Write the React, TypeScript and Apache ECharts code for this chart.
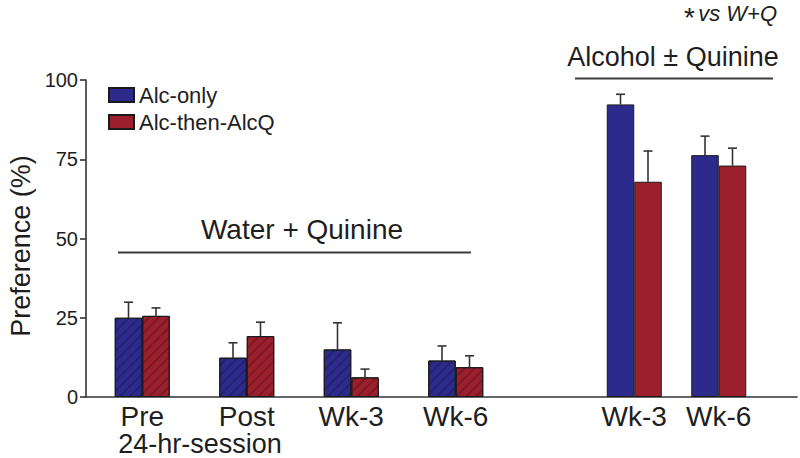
import React, { useEffect, useRef } from "react";
import * as echarts from "echarts";

// Water + Quinine phase
const leftCategories = ["Pre", "Post", "Wk-3", "Wk-6"];
const leftAlcOnly = [25.0, 12.4, 15.0, 11.5];
const leftAlcOnlyErr = [4.9, 4.7, 8.4, 4.6];
const leftAlcThen = [25.6, 19.2, 6.2, 9.4];
const leftAlcThenErr = [2.5, 4.4, 2.6, 3.6];

// Alcohol ± Quinine phase
const rightCategories = ["Wk-3", "Wk-6"];
const rightAlcOnly = [92.3, 76.3];
const rightAlcOnlyErr = [3.2, 6.0];
const rightAlcThen = [67.9, 73.0];
const rightAlcThenErr = [9.7, 5.5];

const yTicks = { min: 0, max: 100, interval: 25 };
const seriesNames = ["Alc-only", "Alc-then-AlcQ"];

const FONT = "'Liberation Sans', Arial, Helvetica, sans-serif";
const BLUE = "#2c2b8c";
const RED = "#9b1f2c";
const TXT = "#1e1e1e";
const BAR_W = 27.5;

const hatch = {
  symbol: "rect",
  symbolSize: 1,
  dashArrayX: [1, 0],
  dashArrayY: [2, 5],
  rotation: -Math.PI / 4,
  color: "rgba(0,0,0,0.2)",
};

function errRender(offset: number) {
  return (params: any, api: any) => {
    const base = api.coord([api.value(0), api.value(1)]);
    const top = api.coord([api.value(0), api.value(2)]);
    const x = base[0] + offset;
    const style = { stroke: "#333", lineWidth: 1.6 };
    return {
      type: "group",
      children: [
        { type: "line", shape: { x1: x, y1: base[1], x2: x, y2: top[1] }, style },
        { type: "line", shape: { x1: x - 4.5, y1: top[1], x2: x + 4.5, y2: top[1] }, style },
      ],
    };
  };
}

export default function App() {
  const ref = useRef<HTMLDivElement>(null);
  useEffect(() => {
    if (!ref.current) return;
    const chart = echarts.init(ref.current, null, { renderer: "svg" });
    const barItem = (color: string) => ({ color, borderColor: "#1a1a1a", borderWidth: 1 });
    const hatched = (vals: number[]) => vals.map((v) => ({ value: v, itemStyle: { decal: hatch } }));
    const errData = (vals: number[], errs: number[]) => vals.map((v, i) => [i, v, v + errs[i]]);
    const catAxis = (cats: string[], gridIndex: number) => ({
      type: "category",
      gridIndex,
      data: cats,
      axisLine: { show: false },
      axisTick: { show: false },
      axisLabel: {
        interval: 0,
        hideOverlap: false,
        fontSize: 28,
        lineHeight: 26,
        color: TXT,
        fontFamily: FONT,
        margin: 6,
      },
    });
    const option: any = {
      animation: false,
      backgroundColor: "#ffffff",
      textStyle: { fontFamily: FONT },
      legend: {
        orient: "vertical",
        left: 103,
        top: 79,
        itemWidth: 25,
        itemHeight: 14,
        itemGap: 5,
        icon: "rect",
        data: seriesNames,
        textStyle: { fontSize: 22, color: TXT, fontFamily: FONT, lineHeight: 22, padding: [0, 0, 0, 0] },
        selectedMode: false,
      },
      grid: [
        { left: 90, width: 418, top: 80, height: 317 },
        { left: 592, width: 169, top: 80, height: 317 },
        { left: 86, right: 3, top: 80, height: 317 },
      ],
      xAxis: [
        catAxis(leftCategories, 0),
        catAxis(rightCategories, 1),
        {
          type: "value",
          gridIndex: 2,
          min: 0,
          max: 1,
          axisLine: { show: true, lineStyle: { color: "#333", width: 1.6 } },
          axisTick: { show: false },
          axisLabel: { show: false },
          splitLine: { show: false },
        },
      ],
      yAxis: [
        {
          type: "value",
          gridIndex: 0,
          min: yTicks.min,
          max: yTicks.max,
          interval: yTicks.interval,
          offset: 4,
          axisLine: { show: true, lineStyle: { color: "#333", width: 1.6 } },
          axisTick: { show: true, inside: false, length: 6, lineStyle: { color: "#333", width: 1.6 } },
          axisLabel: { fontSize: 20, color: TXT, fontFamily: FONT, margin: 8 },
          splitLine: { show: false },
        },
        {
          type: "value",
          gridIndex: 1,
          min: yTicks.min,
          max: yTicks.max,
          show: false,
          splitLine: { show: false },
        },
        { type: "value", gridIndex: 2, min: 0, max: 1, show: false, splitLine: { show: false } },
      ],
      series: [
        {
          name: seriesNames[0],
          type: "bar",
          xAxisIndex: 0,
          yAxisIndex: 0,
          barWidth: BAR_W,
          barGap: "0%",
          itemStyle: barItem(BLUE),
          data: hatched(leftAlcOnly),
        },
        {
          name: seriesNames[1],
          type: "bar",
          xAxisIndex: 0,
          yAxisIndex: 0,
          barWidth: BAR_W,
          barGap: "0%",
          itemStyle: barItem(RED),
          data: hatched(leftAlcThen),
        },
        {
          name: seriesNames[0],
          type: "bar",
          xAxisIndex: 1,
          yAxisIndex: 1,
          barWidth: BAR_W,
          barGap: "0%",
          itemStyle: barItem(BLUE),
          data: rightAlcOnly,
        },
        {
          name: seriesNames[1],
          type: "bar",
          xAxisIndex: 1,
          yAxisIndex: 1,
          barWidth: BAR_W,
          barGap: "0%",
          itemStyle: barItem(RED),
          data: rightAlcThen,
        },
        {
          name: "errL0",
          type: "custom",
          xAxisIndex: 0,
          yAxisIndex: 0,
          renderItem: errRender(-BAR_W / 2),
          encode: { x: 0, y: [1, 2] },
          data: errData(leftAlcOnly, leftAlcOnlyErr),
          z: 1,
        },
        {
          name: "errL1",
          type: "custom",
          xAxisIndex: 0,
          yAxisIndex: 0,
          renderItem: errRender(BAR_W / 2),
          encode: { x: 0, y: [1, 2] },
          data: errData(leftAlcThen, leftAlcThenErr),
          z: 1,
        },
        {
          name: "errR0",
          type: "custom",
          xAxisIndex: 1,
          yAxisIndex: 1,
          renderItem: errRender(-BAR_W / 2),
          encode: { x: 0, y: [1, 2] },
          data: errData(rightAlcOnly, rightAlcOnlyErr),
          z: 1,
        },
        {
          name: "errR1",
          type: "custom",
          xAxisIndex: 1,
          yAxisIndex: 1,
          renderItem: errRender(BAR_W / 2),
          encode: { x: 0, y: [1, 2] },
          data: errData(rightAlcThen, rightAlcThenErr),
          z: 1,
        },
      ],
      graphic: [
        {
          type: "text",
          x: 21,
          y: 246,
          rotation: Math.PI / 2,
          style: {
            text: "Preference (%)",
            fontSize: 27,
            fontFamily: FONT,
            fill: TXT,
            textAlign: "center",
            textVerticalAlign: "middle",
          },
        },
        {
          type: "text",
          x: 200,
          y: 444,
          style: {
            text: "24-hr-session",
            fontSize: 27,
            lineHeight: 24,
            fontFamily: FONT,
            fill: TXT,
            textAlign: "center",
            textVerticalAlign: "middle",
          },
        },
        {
          type: "text",
          x: 302,
          y: 229,
          style: {
            text: "Water + Quinine",
            fontSize: 28,
            fontFamily: FONT,
            fill: TXT,
            textAlign: "center",
            textVerticalAlign: "middle",
          },
        },
        {
          type: "line",
          shape: { x1: 118, y1: 252.5, x2: 471, y2: 252.5 },
          style: { stroke: "#3a3a3a", lineWidth: 2 },
        },
        {
          type: "text",
          x: 673,
          y: 57,
          style: {
            text: "Alcohol ± Quinine",
            fontSize: 27,
            fontFamily: FONT,
            fill: TXT,
            textAlign: "center",
            textVerticalAlign: "middle",
          },
        },
        {
          type: "line",
          shape: { x1: 575, y1: 78.5, x2: 773, y2: 78.5 },
          style: { stroke: "#3a3a3a", lineWidth: 2 },
        },
        {
          type: "text",
          x: 777,
          y: 13,
          style: {
            text: "{a|*} {b|vs W+Q}",
            textAlign: "right",
            textVerticalAlign: "middle",
            rich: {
              a: { fontSize: 28, fontFamily: FONT, fill: TXT, padding: [8, 0, 0, 0] },
              b: { fontSize: 22, fontFamily: FONT, fill: TXT, fontStyle: "italic" },
            },
          },
        },
      ],
    };
    chart.setOption(option);
    return () => chart.dispose();
  }, []);
  return <div ref={ref} style={{ width: 800, height: 458, position: "absolute", left: 0, top: 0 }} />;
}
